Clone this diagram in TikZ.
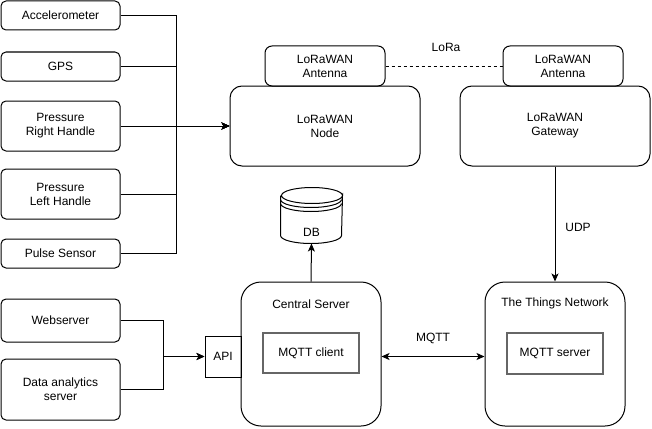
\documentclass[tikz,border=0pt]{standalone}
\usepackage{fontspec}
\setmainfont{Liberation Sans}
\usetikzlibrary{arrows.meta,calc}
\definecolor{innergray}{RGB}{102,102,102}
\begin{document}
\begin{tikzpicture}[x=1pt,y=-1pt,
  font=\fontsize{12}{14}\selectfont,
  every path/.style={line width=1pt},
  box/.style={draw, rounded corners=#1, align=center, inner sep=0pt},
  box/.default=5pt,
  inner/.style={draw=innergray, line width=1.5pt, align=center, inner sep=0pt},
  arr/.style={-{Stealth[length=8pt,width=7pt,inset=2pt]}},
  darr/.style={{Stealth[length=8pt,width=7pt,inset=2pt]}-{Stealth[length=8pt,width=7pt,inset=2pt]}},
  lbl/.style={inner sep=0pt}
]
\useasboundingbox (0,0) rectangle (652,428);
% sensors
\node[box, minimum width=119pt, minimum height=29pt] (acc) at (60.5,15.5) {Accelerometer};
\node[box, minimum width=119pt, minimum height=29pt] (gps) at (60.5,66.5) {GPS};
\node[box, minimum width=119pt, minimum height=50pt] (prr) at (60.5,126) {Pressure\\Right Handle};
\node[box, minimum width=119pt, minimum height=50pt] (prl) at (60.5,194) {Pressure\\Left Handle};
\node[box, minimum width=119pt, minimum height=29pt] (pulse) at (60.5,253.5) {Pulse Sensor};
% LoRaWAN
\node[box=12pt, minimum width=190pt, minimum height=80pt] (node) at (325,126) {LoRaWAN\\Node};
\node[box=7pt, minimum width=120pt, minimum height=40pt] (ant1) at (325,66) {LoRaWAN\\Antenna};
\node[box=7pt, minimum width=120pt, minimum height=40pt] (ant2) at (563,66) {LoRaWAN\\Antenna};
\node[box=12pt, minimum width=190pt, minimum height=80pt] (gw) at (555,126) {LoRaWAN\\Gateway};
% servers
\node[box=20pt, minimum width=140pt, minimum height=144pt] (central) at (311,354) {};
\node[lbl] (centrallbl) at (311,304) {Central Server};
\node[inner, minimum width=96pt, minimum height=40pt] (mqttc) at (311,353) {MQTT client};
\node[box=20pt, minimum width=140pt, minimum height=144pt] (ttn) at (555,354) {};
\node[lbl] (ttnlbl) at (555,303) {The Things Network};
\node[inner, minimum width=96pt, minimum height=41pt] (mqtts) at (555,353.5) {MQTT server};
\node[draw, minimum width=36pt, minimum height=41pt, inner sep=0pt] (api) at (223,356.5) {API};
\node[box, minimum width=119pt, minimum height=43pt] (web) at (60.5,320.5) {Webserver};
\node[box, minimum width=119pt, minimum height=61pt] (data) at (60.5,389.5) {Data analytics\\server};
% DB cylinder
\node[minimum width=61pt, minimum height=55pt, inner sep=0pt] (db) at (311.5,215.5) {};
\node[lbl] (dblbl) at (311.5,232) {DB};
\draw ($(db.north west)+(0,8)$) -- ($(db.south west)+(0,-8)$)
      arc[start angle=180, end angle=360, x radius=30.5pt, y radius=8pt]
      -- ($(db.north east)+(0,8)$)
      arc[start angle=0, end angle=-180, x radius=30.5pt, y radius=8pt]
      arc[start angle=180, end angle=0, x radius=30.5pt, y radius=8pt];
\draw ($(db.north west)+(0,12)$) arc[start angle=180, end angle=360, x radius=30.5pt, y radius=8pt];
\draw ($(db.north west)+(0,16)$) arc[start angle=180, end angle=360, x radius=30.5pt, y radius=8pt];
% bus coordinates
\coordinate (bus) at (176,126);
\coordinate (bus2) at (163,356.5);
\draw[arr] (acc.east) -| (bus) -- (node.west);
\draw[arr] (gps.east) -| (bus) -- (node.west);
\draw[arr] (prr.east) -- (node.west);
\draw[arr] (prl.east) -| (bus) -- (node.west);
\draw[arr] (pulse.east) -| (bus) -- (node.west);
\draw[arr] (web.east) -| (bus2) -- (api.west);
\draw[arr] (data.east) -| (bus2) -- (api.west);
% links
\draw[dashed, dash pattern=on 3pt off 3pt] (ant1.east) -- (ant2.west);
\node[lbl] (loralbl) at (446,47) {LoRa};
\draw[arr] (gw.south -| ttn.north) -- (ttn.north);
\node[lbl] (udplbl) at (578,227) {UDP};
\draw[arr] (central.north) -- (db.south);
\draw[darr] (central.east |- api) -- (ttn.west |- api);
\node[lbl] (mqttlbl) at (433,338) {MQTT};
\end{tikzpicture}
\end{document}
